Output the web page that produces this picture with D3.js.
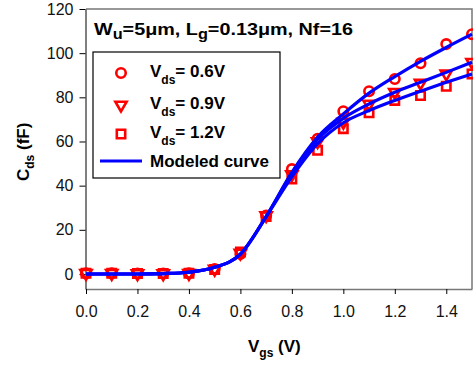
<!DOCTYPE html>
<html>
<head>
<meta charset="utf-8">
<script src="https://cdn.jsdelivr.net/npm/d3@7"></script>
<style>
  body { margin: 0; background: #fff; }
  text { font-family: Arial, "Liberation Sans", sans-serif; }
</style>
</head>
<body>
<div id="chart-area"></div>
<script>
// Data
const vgs = [0, 0.1, 0.2, 0.3, 0.4, 0.5, 0.6, 0.7, 0.8, 0.9, 1.0, 1.1, 1.2, 1.3, 1.4, 1.5];

// measured points
const meas06 = [0.3, 0.3, 0.2, 0.2, 0.3, 2.3, 9.0, 26.5, 47.5, 61.2, 73.7, 82.8, 88.3, 95.4, 104.1, 108.6];
const meas09 = [0.3, 0.3, 0.2, 0.2, 0.3, 2.2, 9.5, 26.5, 45.0, 60.0, 68.8, 77.0, 82.3, 86.5, 90.6, 95.9];
const meas12 = [0.3, 0.3, 0.2, 0.2, 0.3, 2.0, 10.0, 26.0, 43.0, 56.0, 65.8, 73.0, 78.6, 80.8, 85.0, 90.6];

// modeled curves
const model06 = [0, 0, 0, 0.2, 0.8, 3, 9, 26, 46.0, 62.0, 72.5, 81.9, 89.4, 96.3, 102.6, 108.6];
const model09 = [0, 0, 0, 0.2, 0.8, 3, 9, 26, 45.5, 61.0, 70.5, 77.0, 82.3, 86.8, 91.3, 95.9];
const model12 = [0, 0, 0, 0.2, 0.8, 3, 9, 26, 44.0, 59.0, 68.5, 74.0, 78.6, 82.8, 86.8, 90.6];

const xTicks = [0, 0.2, 0.4, 0.6, 0.8, 1.0, 1.2, 1.4];
const yTicks = [0, 20, 40, 60, 80, 100, 120];

// *********************
// Setup
// *********************
const width = 473;
const height = 366;

const svg = d3.select("#chart-area")
	.append("svg")
	.attr("width", width)
	.attr("height", height);

const x = d3.scaleLinear()
	.domain([0, 1.5])
	.range([86, 472]);

const y = d3.scaleLinear()
	.domain([-6.8, 120])
	.range([289, 9]);

// frame (top & right borders, grey)
svg.append("path")
	.attr("d", `M${x(0)},${y(120)}H${x(1.5)}V${y(-6.8)}`)
	.attr("fill", "none")
	.attr("stroke", "#777")
	.attr("stroke-width", 1.5);

// x axis
const xAxis = d3.axisBottom(x)
	.tickValues(xTicks)
	.tickSize(5)
	.tickSizeOuter(0)
	.tickFormat(d3.format(".1f"));

const xAxisGroup = svg.append("g")
	.attr("transform", `translate(0,${y(-6.8)})`)
	.call(xAxis);
xAxisGroup.select(".domain").attr("stroke", "#777").attr("stroke-width", 1.5);
xAxisGroup.selectAll(".tick line").attr("stroke", "#000");
xAxisGroup.selectAll(".tick text")
	.attr("font-size", "16px")
	.attr("fill", "#111")
	.attr("dy", "1.25em");

// y axis
const yAxis = d3.axisLeft(y)
	.tickValues(yTicks)
	.tickSize(6)
	.tickSizeOuter(0);

const yAxisGroup = svg.append("g")
	.attr("transform", `translate(${x(0) - 0.5},0)`)
	.call(yAxis);
yAxisGroup.select(".domain").attr("stroke", "#000");
yAxisGroup.selectAll(".tick text")
	.attr("font-size", "16px")
	.attr("fill", "#111")
	.attr("x", -12);

// axis labels
const xLabel = svg.append("text")
	.attr("x", 248)
	.attr("y", 352)
	.attr("font-size", "17px")
	.attr("font-weight", "bold");
xLabel.append("tspan").text("V");
xLabel.append("tspan").attr("font-size", "12px").attr("dy", 5).text("gs");
xLabel.append("tspan").attr("dy", -5).text(" (V)");

const yLabel = svg.append("text")
	.attr("transform", "translate(29,181) rotate(-90)")
	.attr("font-size", "17px")
	.attr("font-weight", "bold");
yLabel.append("tspan").text("C");
yLabel.append("tspan").attr("font-size", "12px").attr("dy", 5).text("ds");
yLabel.append("tspan").attr("dy", -5).text(" (fF)");

// title
const title = svg.append("text")
	.attr("x", 94)
	.attr("y", 35)
	.attr("font-size", "17px")
	.attr("font-weight", "bold")
	.attr("textLength", 259)
	.attr("lengthAdjust", "spacingAndGlyphs");
title.append("tspan").text("W");
title.append("tspan").attr("font-size", "14px").attr("dy", 4).text("u");
title.append("tspan").attr("dy", -4).text("=5\u03bcm, L");
title.append("tspan").attr("font-size", "14px").attr("dy", 4).text("g");
title.append("tspan").attr("dy", -4).text("=0.13\u03bcm, Nf=16");

// *********************
// Markers
// *********************
const red = "#ff0000";
const markerSym = {
	circle: d3.symbol().type(d3.symbolCircle).size(70),
	triangle: d3.symbol().type(d3.symbolTriangle).size(55),
	square: d3.symbol().type(d3.symbolSquare).size(70)
};

function drawMarkers(values, kind) {
	svg.append("g")
		.selectAll("path")
		.data(values.map((v, i) => [vgs[i], v]))
		.join("path")
		.attr("d", markerSym[kind])
		.attr("transform", d => `translate(${x(d[0])},${y(d[1])})` + (kind === "triangle" ? " rotate(180)" : ""))
		.attr("fill", "none")
		.attr("stroke", red)
		.attr("stroke-width", 2.6);
}

drawMarkers(meas06, "circle");
drawMarkers(meas09, "triangle");
drawMarkers(meas12, "square");

// *********************
// Modeled curves
// *********************
const line = d3.line()
	.x((d, i) => x(vgs[i]))
	.y(d => y(d))
	.curve(d3.curveMonotoneX);

[model06, model09, model12].forEach(m => {
	svg.append("path")
		.datum(m)
		.attr("d", line)
		.attr("fill", "none")
		.attr("stroke", "#0000ff")
		.attr("stroke-width", 3.2);
});

// *********************
// Legend
// *********************
const legend = svg.append("g");

legend.append("rect")
	.attr("x", 93)
	.attr("y", 52)
	.attr("width", 187)
	.attr("height", 126)
	.attr("fill", "#fff")
	.attr("stroke", "#000")
	.attr("stroke-width", 1.2);

const legendItems = [
	{kind: "circle", label: "0.6V", y: 73},
	{kind: "triangle", label: "0.9V", y: 105},
	{kind: "square", label: "1.2V", y: 134}
];

legendItems.forEach(item => {
	legend.append("path")
		.attr("d", markerSym[item.kind])
		.attr("transform", `translate(121,${item.y})` + (item.kind === "triangle" ? " rotate(180)" : ""))
		.attr("fill", "none")
		.attr("stroke", red)
		.attr("stroke-width", 2.6);

	const t = legend.append("text")
		.attr("x", 150)
		.attr("y", item.y + 4)
		.attr("font-size", "17px")
		.attr("font-weight", "bold");
	t.append("tspan").text("V");
	t.append("tspan").attr("font-size", "12px").attr("dy", 7).text("ds");
	t.append("tspan").attr("dy", -7).text("= " + item.label);
});

legend.append("line")
	.attr("x1", 100)
	.attr("x2", 142)
	.attr("y1", 161)
	.attr("y2", 161)
	.attr("stroke", "#0000ff")
	.attr("stroke-width", 3.2);

legend.append("text")
	.attr("x", 150)
	.attr("y", 167)
	.attr("font-size", "17px")
	.attr("font-weight", "bold")
	.text("Modeled curve");
</script>
</body>
</html>
